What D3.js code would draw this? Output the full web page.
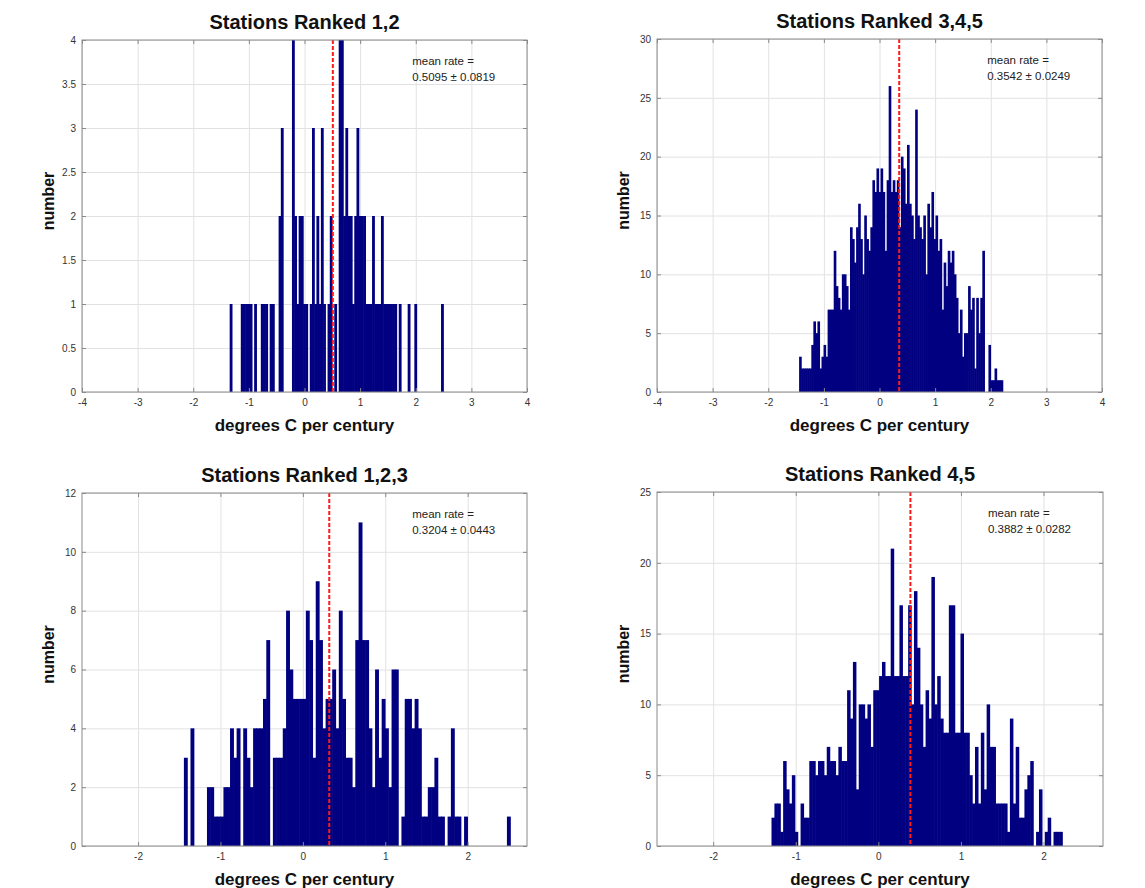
<!DOCTYPE html>
<html>
<head>
<meta charset="utf-8">
<script src="https://cdn.jsdelivr.net/npm/d3@7"></script>
<style>
body { margin: 0; background: #fff; }
text { font-family: "Liberation Sans", Arial, Helvetica, sans-serif; }
.grid line { stroke: #e2e2e2; stroke-width: 1; }
.grid path { display: none; }
.ax path { display: none; }
.ax line { stroke: #8a8a8a; }
.ax text { font-size: 10px; fill: #333; }
</style>
</head>
<body>
<div id="chart"></div>
<script>

var titles = ["Stations Ranked 1,2", "Stations Ranked 3,4,5", "Stations Ranked 1,2,3", "Stations Ranked 4,5"];

// histogram counts, one value per bin
var countsA = [1,0,0,0,0, 1,1,1,1,1, 0,1,0,0,1, 1,1,0,1,1, 0,0,2,3,0, 0,0,0,4,2,
    1,2,2,1,1, 0,1,3,1,2, 1,3,1,0,1, 2,0,1,0,4, 4,2,3,2,2, 1,2,3,2,2,
    2,1,1,1,2, 1,1,1,2,1, 1,1,1,1,1, 0,1,0,0,0, 1,0,0,1,0, 0,0,0,0,0,
    0,0,0,0,0, 1];
var countsB = [3,2,2,2,2,2,4,6,5,6, 2,3,4,3,7,7,7,12,9,8, 7,10,10,9,7,14,13,11,14,16,
    13,10,15,13,12,14,18,17,19,17, 19,17,12,18,26,17,18,17,18,14, 20,19,16,21,16,15,13,24,15,14,
    13,15,10,16,14,17,13,15,12,13, 7,11,9,12,11,12,10,8,5,7, 3,5,5,9,7,8,2,8,5,8,
    12,0,0,4,1,1,2,1,1,1];
var countsC = [3,0,4,0,0,0,0,2,2,1, 1,1,2,2,4,3,4,0,4,3, 2,4,4,4,5,7,0,3,3,3,
    4,8,6,5,5,5,5,8,7,3, 9,7,4,5,5,6,4,8,5,3, 3,2,7,11,7,7,4,2,6,3,
    5,4,2,6,6,0,1,5,5,4, 5,4,1,1,2,2,3,1,1,0, 1,4,1,1,0,1,0,0,0,0,
    0,0,0,0,0,0,0,0,1];
var countsD = [2,3,3,1,6,4,3,5,1,0, 3,2,2,6,6,5,6,6,5,7, 6,6,5,7,6,6,11,9,13,4,
    10,10,9,10,7,11,11,12,13,12, 12,21,12,12,17,12,12,17,10,18, 14,10,7,11,9,19,10,12,9,8,
    8,17,17,8,8,15,8,8,5,3, 7,3,8,4,10,7,7,3,3,3, 3,1,9,3,7,2,2,4,5,6,
    0,1,4,0,1,2,0,1,1,1];

var binStart = [-1.34, -1.44, -1.44, -1.29];
var binWidth = [0.04, 0.0366, 0.04, 0.0352];
var meanRate = [0.5095, 0.3542, 0.3204, 0.3882];
var meanErr = [0.0819, 0.0249, 0.0443, 0.0282];

var xDomains = [[-4, 4], [-4, 4], [-2.68, 2.72], [-2.68, 2.72]];
var xTicksWide = [-4, -3, -2, -1, 0, 1, 2, 3, 4];
var xTicksNarrow = [-2, -1, 0, 1, 2];
var yTicksA = [0, 0.5, 1, 1.5, 2, 2.5, 3, 3.5, 4];
var yTicksB = [0, 5, 10, 15, 20, 25, 30];
var yTicksC = [0, 2, 4, 6, 8, 10, 12];
var yTicksD = [0, 5, 10, 15, 20, 25];

var counts = [countsA, countsB, countsC, countsD];
var xTicks = [xTicksWide, xTicksWide, xTicksNarrow, xTicksNarrow];
var yTicks = [yTicksA, yTicksB, yTicksC, yTicksD];

// plot boxes in page pixels
var boxes = [
    {l: 82, t: 40, r: 527, b: 392},
    {l: 657, t: 39, r: 1102, b: 392},
    {l: 82, t: 493, r: 527, b: 846},
    {l: 657, t: 492, r: 1103, b: 846}
];

var svg = d3.select("#chart")
    .append("svg")
    .attr("width", 1145)
    .attr("height", 888);

boxes.forEach(function(bx, p) {
    var w = bx.r - bx.l, h = bx.b - bx.t;
    var yt = yTicks[p];

    var g = svg.append("g")
        .attr("transform", "translate(" + bx.l + "," + bx.t + ")");

    var x = d3.scaleLinear().domain(xDomains[p]).range([0, w]);
    var y = d3.scaleLinear().domain([0, yt[yt.length - 1]]).range([h, 0]);

    g.append("g")
        .attr("class", "grid")
        .attr("transform", "translate(0," + h + ")")
        .call(d3.axisBottom(x).tickValues(xTicks[p]).tickSize(-h).tickFormat(""));
    g.append("g")
        .attr("class", "grid")
        .call(d3.axisLeft(y).tickValues(yt).tickSize(-w).tickFormat(""));

    var bins = counts[p].map(function(c, i) {
        return {x0: binStart[p] + i * binWidth[p], x1: binStart[p] + (i + 1) * binWidth[p], c: c};
    }).filter(function(d) { return d.c > 0; });

    // small overlap so neighbouring bars do not show seams
    g.selectAll("rect.bar")
        .data(bins)
        .enter().append("rect")
        .attr("class", "bar")
        .attr("x", function(d) { return x(d.x0) - 0.3; })
        .attr("width", function(d) { return x(d.x1) - x(d.x0) + 0.6; })
        .attr("y", function(d) { return y(d.c); })
        .attr("height", function(d) { return h - y(d.c); })
        .style("fill", "#000080");

    g.append("line")
        .attr("x1", x(meanRate[p]))
        .attr("x2", x(meanRate[p]))
        .attr("y1", 0)
        .attr("y2", h)
        .style("stroke", "#ff1a1a")
        .style("stroke-width", 2)
        .style("stroke-dasharray", "4,2");

    g.append("rect")
        .attr("width", w)
        .attr("height", h)
        .style("fill", "none")
        .style("stroke", "#8a8a8a");

    var fmt = function(d) { return String(d); };
    g.append("g")
        .attr("class", "ax")
        .attr("transform", "translate(0," + h + ")")
        .call(d3.axisBottom(x).tickValues(xTicks[p]).tickSize(-4).tickPadding(7).tickFormat(fmt));
    g.append("g")
        .attr("class", "ax")
        .call(d3.axisTop(x).tickValues(xTicks[p]).tickSize(-4).tickFormat(""));
    g.append("g")
        .attr("class", "ax")
        .call(d3.axisLeft(y).tickValues(yt).tickSize(-4).tickPadding(6).tickFormat(fmt));
    g.append("g")
        .attr("class", "ax")
        .attr("transform", "translate(" + w + ",0)")
        .call(d3.axisRight(y).tickValues(yt).tickSize(-4).tickFormat(""));

    g.append("text")
        .attr("x", w * 0.742)
        .attr("y", 25)
        .style("font-size", "11.5px")
        .style("fill", "#222")
        .text("mean rate =");
    g.append("text")
        .attr("x", w * 0.742)
        .attr("y", 41)
        .style("font-size", "11.5px")
        .style("fill", "#222")
        .text(meanRate[p].toFixed(4) + " \u00b1 " + meanErr[p].toFixed(4));

    g.append("text")
        .attr("x", w / 2)
        .attr("y", -11)
        .style("text-anchor", "middle")
        .style("font-size", "20px")
        .style("font-weight", "bold")
        .style("fill", "#111")
        .text(titles[p]);

    g.append("text")
        .attr("x", w / 2)
        .attr("y", h + 38.5)
        .style("text-anchor", "middle")
        .style("font-size", "17px")
        .style("font-weight", "bold")
        .style("fill", "#111")
        .text("degrees C per century");

    g.append("text")
        .attr("transform", "translate(-28," + (h / 2 - 15) + ") rotate(-90)")
        .style("text-anchor", "middle")
        .style("font-size", "16px")
        .style("font-weight", "bold")
        .style("fill", "#111")
        .text("number");
});

</script>
</body>
</html>
